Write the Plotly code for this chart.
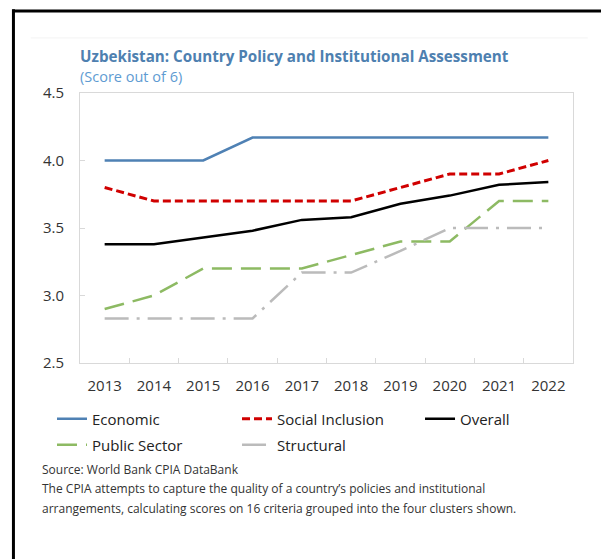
import plotly.graph_objects as go

# CPIA cluster scores for Uzbekistan (score out of 6)
years = ["2013", "2014", "2015", "2016", "2017", "2018", "2019", "2020", "2021", "2022"]
economic = [4.0, 4.0, 4.0, 4.17, 4.17, 4.17, 4.17, 4.17, 4.17, 4.17]
social_inclusion = [3.8, 3.7, 3.7, 3.7, 3.7, 3.7, 3.8, 3.9, 3.9, 4.0]
overall = [3.38, 3.38, 3.43, 3.48, 3.56, 3.58, 3.68, 3.74, 3.82, 3.84]
public_sector = [2.9, 3.0, 3.2, 3.2, 3.2, 3.3, 3.4, 3.4, 3.7, 3.7]
structural = [2.83, 2.83, 2.83, 2.83, 3.17, 3.17, 3.33, 3.5, 3.5, 3.5]

y_ticks = [2.5, 3.0, 3.5, 4.0, 4.5]
y_tick_labels = ["2.5", "3.0", "3.5", "4.0", "4.5"]

FONT = "Open Sans"
TEXT = "#333333"

# Legend grid: three columns, two rows (paper coordinates)
LEG_COLS = [-0.0568, 0.3185, 0.6897]
LEG_ROWS = [-0.1463, -0.2430]

# (name, values, line style, legend column, legend row)
series = [
    ("Economic", economic, dict(color="#4F81B4", width=2.5, dash="solid"), 0, 0),
    ("Social Inclusion", social_inclusion, dict(color="#D00000", width=3, dash="8px,4px"), 1, 0),
    ("Overall", overall, dict(color="#000000", width=2.5, dash="solid"), 2, 0),
    ("Public Sector", public_sector, dict(color="#8DBA63", width=2.5, dash="20px,9px"), 0, 1),
    ("Structural", structural, dict(color="#BBBBBB", width=2.5, dash="24px,8px,3px,8px"), 1, 1),
]

fig = go.Figure()
legends = {}
for i, (name, vals, line, col, row) in enumerate(series):
    key = "legend" if i == 0 else f"legend{i + 1}"
    fig.add_trace(go.Scatter(x=years, y=vals, name=name, mode="lines", line=line, legend=key))
    legends[key] = dict(
        orientation="h",
        x=LEG_COLS[col],
        y=LEG_ROWS[row],
        xanchor="left",
        yanchor="top",
        font=dict(family=FONT, size=15, color="#222222"),
        itemwidth=30,
        bgcolor="rgba(0,0,0,0)",
    )

fig.update_layout(
    width=601,
    height=559,
    margin=dict(l=80, r=28, t=93, b=196),
    paper_bgcolor="white",
    plot_bgcolor="white",
    font=dict(family=FONT, size=15, color=TEXT),
    showlegend=True,
    xaxis=dict(
        type="category",
        range=[-0.5, 9.5],
        showline=True,
        linecolor="#D9D9D9",
        linewidth=1,
        mirror=True,
        ticks="inside",
        tickson="boundaries",
        ticklen=5,
        tickcolor="#D9D9D9",
        showgrid=False,
        ticklabelstandoff=9,
        tickfont=dict(family=FONT, size=15, color=TEXT),
    ),
    yaxis=dict(
        range=[2.5, 4.5],
        tickvals=y_ticks,
        ticktext=y_tick_labels,
        showline=True,
        linecolor="#D9D9D9",
        linewidth=1,
        mirror=True,
        ticks="inside",
        ticklen=5,
        tickcolor="#D9D9D9",
        showgrid=False,
        zeroline=False,
        ticklabelstandoff=12,
        tickfont=dict(family=FONT, size=15, color=TEXT),
    ),
    **legends,
)

# Title and subtitle
fig.add_annotation(
    text="<b>Uzbekistan: Country Policy and Institutional Assessment</b>",
    xref="paper", yref="paper", x=0, y=1, xanchor="left", yanchor="bottom",
    yshift=25, xshift=-2, showarrow=False,
    font=dict(family=FONT, size=15.2, color="#4E80B0"),
)
fig.add_annotation(
    text="(Score out of 6)",
    xref="paper", yref="paper", x=0, y=1, xanchor="left", yanchor="bottom",
    yshift=5, xshift=-2, showarrow=False,
    font=dict(family=FONT, size=14.5, color="#5E9BD2"),
)

# Source and note
notes = [
    "Source: World Bank CPIA DataBank",
    "The CPIA attempts to capture the quality of a country\u2019s policies and institutional",
    "arrangements, calculating scores on 16 criteria grouped into the four clusters shown.",
]
for i, line_text in enumerate(notes):
    fig.add_annotation(
        text=line_text,
        xref="paper", yref="paper", x=0, y=0, xanchor="left", yanchor="middle",
        xshift=-40, yshift=-(106 + 19.5 * i), showarrow=False,
        font=dict(family=FONT, size=12, color=TEXT),
    )

# Outer frame: top and left edges, plus a faint inner rule
fig.add_shape(
    type="line", xref="paper", yref="paper",
    x0=-0.137, x1=1.3, y0=1.304, y1=1.304,
    line=dict(color="black", width=3),
)
fig.add_shape(
    type="line", xref="paper", yref="paper",
    x0=-0.135, x1=-0.135, y0=1.31, y1=-1.0,
    line=dict(color="black", width=3),
)
fig.add_shape(
    type="line", xref="paper", yref="paper",
    x0=-0.1, x1=1.03, y0=1.204, y1=1.204,
    line=dict(color="#F3F3F3", width=1),
)

fig.write_html("out.html")
